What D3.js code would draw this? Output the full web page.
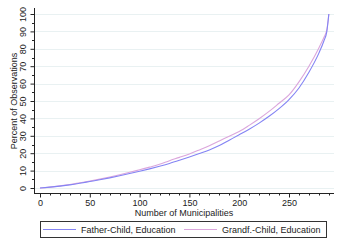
<!DOCTYPE html>
<html><head><meta charset="utf-8">
<script src="https://cdn.jsdelivr.net/npm/d3@7"></script>
<style>body{margin:0;background:#fff}svg{display:block}text{font-family:"Liberation Sans",Arial,sans-serif}</style>
</head><body><svg id="c" width="343" height="250"></svg>
<script>
const xs = [0,10,20,30,40,50,60,70,80,90,100,110,120,130,140,150,160,170,180,190,200,210,220,230,240,250,260,270,280,285,288,290];
const fatherChild = [0,0.5,1.1,1.8,2.7,3.7,4.7,5.8,7.0,8.3,9.6,11.0,12.5,14.1,15.9,17.8,19.8,21.9,24.4,27.5,30.6,33.8,37.3,41.2,45.6,50.8,57.5,66.5,77.5,84.5,90,100];
const grandfChild = [0,0.5,1.2,2.0,3.0,4.0,5.1,6.3,7.6,9.0,10.5,12.0,13.6,15.7,17.6,19.6,21.9,24.3,27.0,29.8,32.5,36.0,39.8,44.0,48.7,53.5,61,70.0,80.5,86.5,91,100];
const xTicks = [0,50,100,150,200,250];
const yTicks = [0,10,20,30,40,50,60,70,80,90,100];
const seriesNames = ["Father-Child, Education","Grandf.-Child, Education"];
const colors = ["#8484f4","#dba6dc"];

const svg = d3.select("#c");
const x = d3.scaleLinear().domain([0,250]).range([40,289]);
const y = d3.scaleLinear().domain([0,100]).range([188,14]);
const L=34, R=334, B=193.5, T=8;

// grid
svg.append("g").selectAll("line").data(yTicks).join("line")
  .attr("x1",L).attr("x2",R).attr("y1",d=>Math.round(y(d))+0.5).attr("y2",d=>Math.round(y(d))+0.5)
  .attr("stroke","#e9f1f2").attr("stroke-width",1);

// y axis
const yAxis = d3.axisLeft(y).tickValues(yTicks).tickSize(4).tickPadding(3);
const gy = svg.append("g").attr("transform",`translate(${L+0.5},0)`).call(yAxis);
gy.select(".domain").remove();
gy.selectAll(".tick line").attr("stroke","#222");
gy.selectAll(".tick text").attr("transform","rotate(-90)").attr("x",0).attr("y",-11).attr("dy","0.32em")
  .attr("text-anchor","middle").attr("font-size",9).attr("fill","#222");
const yMinor = d3.range(5,100,10);
svg.append("g").selectAll("line").data(yMinor).join("line")
  .attr("x1",L-2).attr("x2",L).attr("y1",d=>Math.round(y(d))+0.5).attr("y2",d=>Math.round(y(d))+0.5).attr("stroke","#222");
svg.append("line").attr("x1",L+0.5).attr("x2",L+0.5).attr("y1",T).attr("y2",B+0.5).attr("stroke","#222");

// x axis
const xAxis = d3.axisBottom(x).tickValues(xTicks).tickSize(4).tickPadding(2);
const gx = svg.append("g").attr("transform",`translate(0,${B})`).call(xAxis);
gx.select(".domain").remove();
gx.selectAll(".tick line").attr("stroke","#222");
gx.selectAll(".tick text").attr("font-size",9).attr("fill","#222");
const xMinor = d3.range(10,300,10).filter(d=>d%50!==0);
svg.append("g").selectAll("line").data(xMinor).join("line")
  .attr("y1",B).attr("y2",B+2).attr("x1",d=>Math.round(x(d))+0.5).attr("x2",d=>Math.round(x(d))+0.5).attr("stroke","#222");
svg.append("line").attr("x1",L).attr("x2",R).attr("y1",B).attr("y2",B).attr("stroke","#222");

// titles
svg.append("text").attr("x",184).attr("y",216).attr("text-anchor","middle").attr("font-size",9).attr("fill","#222").text("Number of Municipalities");
svg.append("text").attr("transform",`translate(14,101) rotate(-90)`).attr("dy","0.32em").attr("text-anchor","middle").attr("font-size",9).attr("fill","#222").text("Percent of Observations");

// lines
const line = d3.line().x((d,i)=>x(xs[i])).y(d=>y(d)).curve(d3.curveMonotoneX);
[grandfChild,fatherChild].forEach((s,k)=>{
  svg.append("path").datum(s).attr("d",line).attr("fill","none")
    .attr("stroke",k===0?colors[1]:colors[0]).attr("stroke-width",1.1);
});

// legend
svg.append("rect").attr("x",40.5).attr("y",221.5).attr("width",286).attr("height",16).attr("fill","#fff").attr("stroke","#333");
const lx=[43,184];
seriesNames.forEach((n,i)=>{
  svg.append("line").attr("x1",lx[i]).attr("x2",lx[i]+33).attr("y1",229.5).attr("y2",229.5).attr("stroke",colors[i]).attr("stroke-width",1.1);
  svg.append("text").attr("x",lx[i]+38).attr("y",229.5).attr("dy","0.35em").attr("font-size",9).attr("fill","#222").text(n);
});
</script></body></html>
